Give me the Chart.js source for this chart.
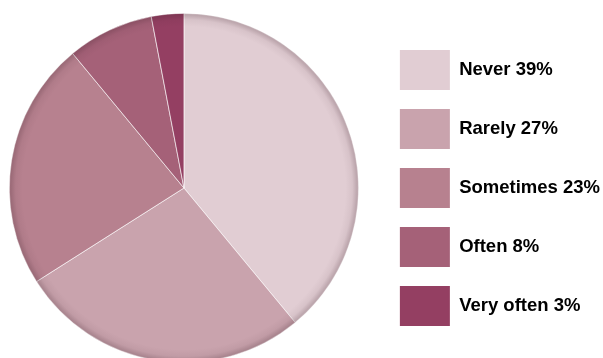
<!DOCTYPE html>
<html>
<head>
<meta charset="utf-8">
<script src="https://cdn.jsdelivr.net/npm/chart.js@4"></script>
<style>
  html, body { margin: 0; padding: 0; background: #fff; overflow: hidden; }
  #wrap { width: 616px; height: 376px; margin-left: -13px; }
</style>
</head>
<body>
<div id="wrap"><canvas id="chartFrequency"></canvas></div>
<script>
const FREQ_LABELS = ['Never', 'Rarely', 'Sometimes', 'Often', 'Very often'];
const FREQ_VALUES = [39, 27, 23, 8, 3];
const FREQ_COLORS = ['#e1cdd3', '#c9a3ad', '#b7818f', '#a56178', '#943f62'];

// soft inner shadow along the rim of the pie
const rimShadow = {
    id: 'rimShadow',
    afterDatasetsDraw(chart) {
        const arc = chart.getDatasetMeta(0).data[0];
        if (!arc) return;
        const { x, y, outerRadius: r } = arc.getProps(['x', 'y', 'outerRadius'], true);
        const ctx = chart.ctx;
        ctx.save();
        const g = ctx.createRadialGradient(x, y, r - 13, x, y, r + 0.5);
        g.addColorStop(0, 'rgba(60,30,40,0)');
        g.addColorStop(0.5, 'rgba(60,30,40,0.06)');
        g.addColorStop(0.85, 'rgba(60,30,40,0.22)');
        g.addColorStop(1, 'rgba(60,30,40,0.16)');
        ctx.beginPath();
        ctx.arc(x, y, r, 0, Math.PI * 2);
        ctx.fillStyle = g;
        ctx.fill();
        ctx.restore();
    }
};

new Chart(document.getElementById('chartFrequency'), {
    type: 'pie',
    data: {
        labels: FREQ_LABELS,
        datasets: [{
            data: FREQ_VALUES,
            backgroundColor: FREQ_COLORS,
            borderColor: 'rgba(255,255,255,0.75)',
            borderWidth: 0.8,
        }]
    },
    plugins: [rimShadow],
    options: {
        responsive: true,
        maintainAspectRatio: false,
        animation: false,
        layout: { padding: { left: 0, right: -7, top: 13, bottom: 13 } },
        plugins: {
            tooltip: { enabled: false },
            legend: {
                position: 'right',
                labels: {
                    boxWidth: 50,
                    boxHeight: 40,
                    padding: 19,
                    color: '#111',
                    font: { family: "'Liberation Sans', Arial, sans-serif", size: 18.5, weight: 'bold' },
                    generateLabels: (chart) => FREQ_LABELS.map((l, i) => ({
                        text: l + ' ' + FREQ_VALUES[i] + '%',
                        fillStyle: FREQ_COLORS[i],
                        strokeStyle: FREQ_COLORS[i],
                        lineWidth: 0,
                        index: i,
                    }))
                }
            }
        }
    }
});
</script>
</body>
</html>
